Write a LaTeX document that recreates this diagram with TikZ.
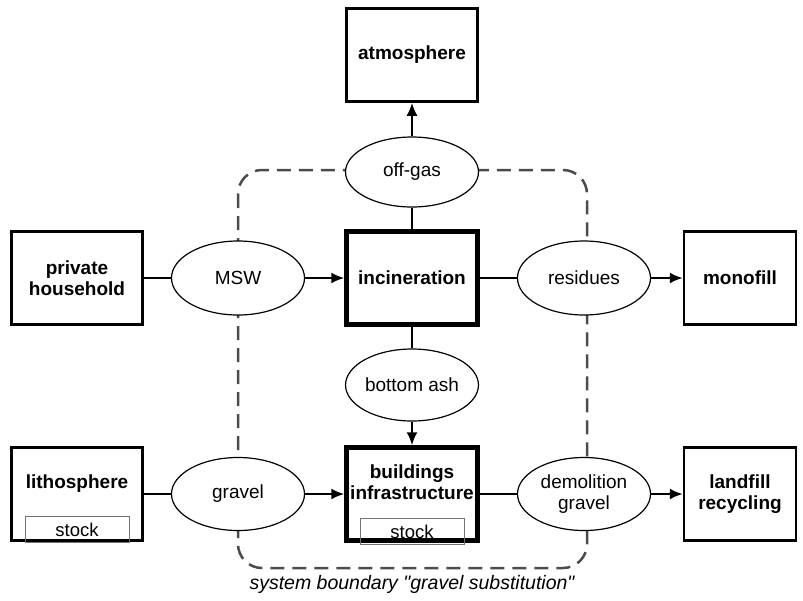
\documentclass[tikz,border=0pt]{standalone}
\usepackage{fontspec}
\setmainfont{Liberation Sans}
\usetikzlibrary{shapes,arrows.meta}
\tikzset{>=Latex}
\tikzstyle{arw}=[-{Latex[length=13pt,width=11pt]}]
\tikzstyle{proc}=[draw, line width=2.5pt, minimum width=131pt, minimum height=93pt, align=center, font=\fontsize{19}{21}\selectfont\bfseries]
\tikzstyle{goods}=[draw, ellipse, fill=white, line width=1.2pt, minimum width=133pt, minimum height=74pt, inner sep=0pt, align=center, font=\fontsize{19}{21}\selectfont]
\tikzstyle{stockbox}=[draw=black!55, line width=1pt, minimum width=104pt, minimum height=26pt, inner sep=0pt, font=\fontsize{18.5}{20}\selectfont]
\tikzstyle{boundary}=[draw=black!70, line width=2.5pt, dash pattern=on 14pt off 8pt, rounded corners=24pt]

\begin{document}
\begin{tikzpicture}[x=1pt, y=-1pt, line width=2pt]
    \useasboundingbox (0,0) rectangle (803,600);
    \coordinate (P) at (77,278);
    \coordinate (I) at (412,278);
    \coordinate (M) at (740,278);
    \coordinate (L) at (77,494);
    \coordinate (B) at (412,494);
    \coordinate (R) at (740,494);

    % system boundary
    \draw[boundary] (238,170) rectangle (587,568);
    \node[font=\fontsize{19.5}{21}\selectfont\itshape] (sysb) at (412,584) {system boundary \textquotedbl gravel substitution\textquotedbl};

    % processes
    \node[proc] (atm) at (412,55) {atmosphere};
    \node[proc] (ph) at (P) {private\\household};
    \node[proc, line width=4.5pt] (inc) at (I) {incineration};
    \node[proc, minimum width=112pt] (mono) at (M) {monofill};
    \node[proc, text depth=24pt] (litho) at (L) {lithosphere};
    \node[proc, line width=4.5pt, text depth=24pt] (bld) at (B) {buildings\\infrastructure};
    \node[proc, minimum width=112pt] (land) at (R) {landfill\\recycling};
    \node[stockbox, anchor=south] (lithostock) at ([yshift=-1.25pt]litho.south) {stock};
    \node[stockbox, anchor=south] (bldstock) at ([yshift=-2.25pt]bld.south) {stock};

    % goods
    \node[goods, minimum height=70pt] (offgas) at (412,172) {off-gas};
    \node[goods] (msw) at (238,278) {MSW};
    \node[goods] (res) at (584,278) {residues};
    \node[goods, minimum height=72pt, minimum width=132pt] (bash) at (412,385) {bottom ash};
    \node[goods, minimum height=73pt] (gravel) at (238,494) {gravel};
    \node[goods, minimum height=73pt] (dgr) at (584,494) {demolition\\gravel};

    % flows
    \draw (ph) -- (msw);
    \draw[arw] (msw) -- (inc);
    \draw (inc) -- (res);
    \draw[arw] (res) -- (mono);
    \draw (inc) -- (offgas);
    \draw[arw] (offgas) -- (atm);
    \draw (inc) -- (bash);
    \draw[arw] (bash) -- (bld);
    \draw (litho) -- (gravel);
    \draw[arw] (gravel) -- (bld);
    \draw (bld) -- (dgr);
    \draw[arw] (dgr) -- (land);
\end{tikzpicture}
\end{document}
